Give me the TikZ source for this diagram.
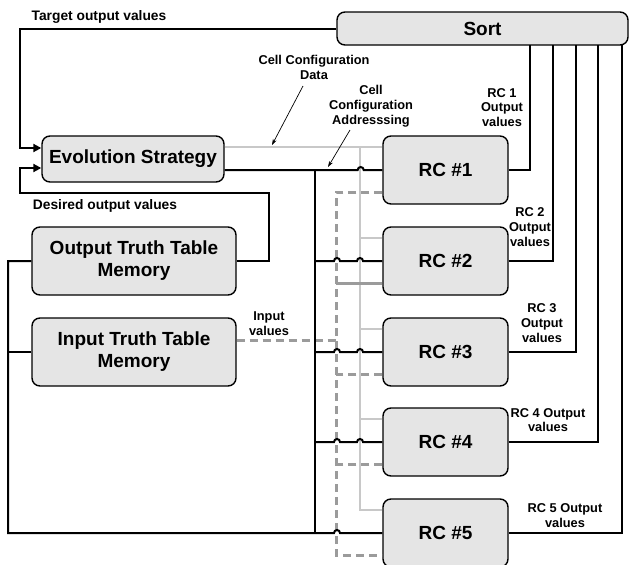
\documentclass[tikz,border=0pt]{standalone}
\usepackage{fontspec}
\setmainfont{Liberation Sans}
\usetikzlibrary{arrows.meta,calc}
\definecolor{boxgray}{RGB}{229,229,229}
\definecolor{lightg}{RGB}{200,200,200}
\definecolor{dashg}{RGB}{155,155,155}
\begin{document}
\begin{tikzpicture}[x=1pt,y=-1pt,
  box/.style={draw=black, line width=1.4pt, fill=boxgray, rounded corners=8pt,
    font=\fontsize{19}{22}\selectfont\bfseries, align=center, inner sep=0pt},
  lbl/.style={font=\fontsize{12.8}{14.8}\selectfont\bfseries, align=center, inner sep=0pt},
  biglbl/.style={font=\fontsize{13.8}{16}\selectfont\bfseries, inner sep=0pt},
  wire/.style={line width=2pt, black},
  cfg/.style={line width=2pt, lightg},
  inp/.style={line width=3pt, dashg, dash pattern=on 8pt off 5pt},
  ptr/.style={line width=0.7pt, black, -{Stealth[length=6pt,width=4pt]}},
  arr/.style={-{Triangle[length=8pt,width=8pt]}}
]
\clip (0,0) rectangle (630,565);
\fill[white] (0,0) rectangle (630,565);

% boxes
\node[box, minimum width=291pt, minimum height=33pt] (sort) at (482.5,28.5) {Sort};
\node[box, minimum width=182pt, minimum height=46pt] (es) at (133,159) {Evolution Strategy};
\node[box, minimum width=204pt, minimum height=68pt] (ott) at (134,261) {Output Truth Table\\Memory};
\node[box, minimum width=204pt, minimum height=68pt] (itt) at (134,352) {Input Truth Table\\Memory};
\node[box, minimum width=125pt, minimum height=68pt] (rc1) at (445.5,170) {RC \#1};
\node[box, minimum width=125pt, minimum height=68pt] (rc2) at (445.5,261) {RC \#2};
\node[box, minimum width=125pt, minimum height=68pt] (rc3) at (445.5,352) {RC \#3};
\node[box, minimum width=125pt, minimum height=68pt] (rc4) at (445.5,442) {RC \#4};
\node[box, minimum width=125pt, minimum height=68pt] (rc5) at (445.5,533) {RC \#5};

% coordinates
\coordinate (lx1) at (20,148);
\coordinate (d1) at (269,193);
\coordinate (d2) at (20,168);
\coordinate (lb) at (8,533);
\coordinate (bt) at (315,170);
\coordinate (bb) at (315,533);
\coordinate (cv) at (360,147);
\coordinate (s1) at (530,45);
\coordinate (s2) at (553,45);
\coordinate (s3) at (576,45);
\coordinate (s4) at (598,45);
\coordinate (s5) at (622,45);
\coordinate (a1s) at (303,86);
\coordinate (a1e) at (272,145);
\coordinate (a2s) at (350,130);
\coordinate (a2e) at (328,167);

% light gray configuration data lines
\draw[cfg] ([yshift=12pt]es.east) -- ([yshift=23pt]rc1.west);
\draw[cfg] (cv) |- ([yshift=23pt]rc5.west);
\draw[cfg] ([yshift=23pt]rc2.west) -- ++(-23,0);
\draw[cfg] ([yshift=23pt]rc3.west) -- ++(-23,0);
\draw[cfg] ([yshift=23pt]rc4.west) -- ++(-23,0);

% dashed input lines
\draw[inp] ([yshift=-22pt]rc1.west) -- ++(-46,0) |- ([yshift=-22pt]rc5.west);
\draw[line width=3pt, dashg] ([yshift=-22pt]rc2.west) -- ++(-46,0);
\draw[inp] ([yshift=-22pt]rc3.west) -- ++(-46,0);
\draw[inp] ([yshift=-22pt]rc4.west) -- ++(-46,0);
\draw[inp] ([yshift=12pt]itt.east) -- ++(101,0);

% feedback to evolution strategy
\draw[wire, arr] (sort.west) -| (lx1) -- (lx1 -| es.west);
\draw[wire, arr] (ott.east) -| (d1) -| (d2) -- (d2 -| es.west);

% left loop
\draw[wire] (ott.west) -| (lb) -- ++(326,0) arc[start angle=180,end angle=0,radius=3pt] -- (rc5.west);
\draw[wire] (itt.west) -- (itt.west -| lb);

% evolution strategy address bus
\draw[wire] (es.east |- rc1.west) -- ++(133,0) arc[start angle=180,end angle=0,radius=3pt] -- (rc1.west);
\draw[wire] (bt) -- (bb);
\draw[wire] (rc2.west -| bt) -- ++(19,0) arc[start angle=180,end angle=0,radius=3pt] -- ++(17,0) arc[start angle=180,end angle=0,radius=3pt] -- (rc2.west);
\draw[wire] (rc3.west -| bt) -- ++(19,0) arc[start angle=180,end angle=0,radius=3pt] -- ++(17,0) arc[start angle=180,end angle=0,radius=3pt] -- (rc3.west);
\draw[wire] (rc4.west -| bt) -- ++(19,0) arc[start angle=180,end angle=0,radius=3pt] -- ++(17,0) arc[start angle=180,end angle=0,radius=3pt] -- (rc4.west);

% outputs to sort
\draw[wire] (rc1.east) -| (s1);
\draw[wire] (rc2.east) -| (s2);
\draw[wire] (rc3.east) -| (s3);
\draw[wire] (rc4.east) -| (s4);
\draw[wire] (rc5.east) -| (s5);

% pointer arrows
\draw[ptr] (a1s) -- (a1e);
\draw[ptr] (a2s) -- (a2e);

% labels
\node[biglbl, anchor=base] (tov) at (99,20) {Target output values};
\node[biglbl, anchor=base] (dov) at (105,209) {Desired output values};
\node[lbl] (ccd) at (314,67.5) {Cell Configuration\\Data};
\node[lbl] (cca) at (371,106) {Cell\\Configuration\\Addresssing};
\node[lbl] (o1) at (502,107.5) {RC 1\\Output\\values};
\node[lbl] (o2) at (530,227) {RC 2\\Output\\values};
\node[lbl] (o3) at (542,323) {RC 3\\Output\\values};
\node[lbl] (o4) at (548,420) {RC 4 Output\\values};
\node[lbl] (o5) at (565,515.5) {RC 5 Output\\values};
\node[lbl] (iv) at (269,323.5) {Input\\values};
\end{tikzpicture}
\end{document}
